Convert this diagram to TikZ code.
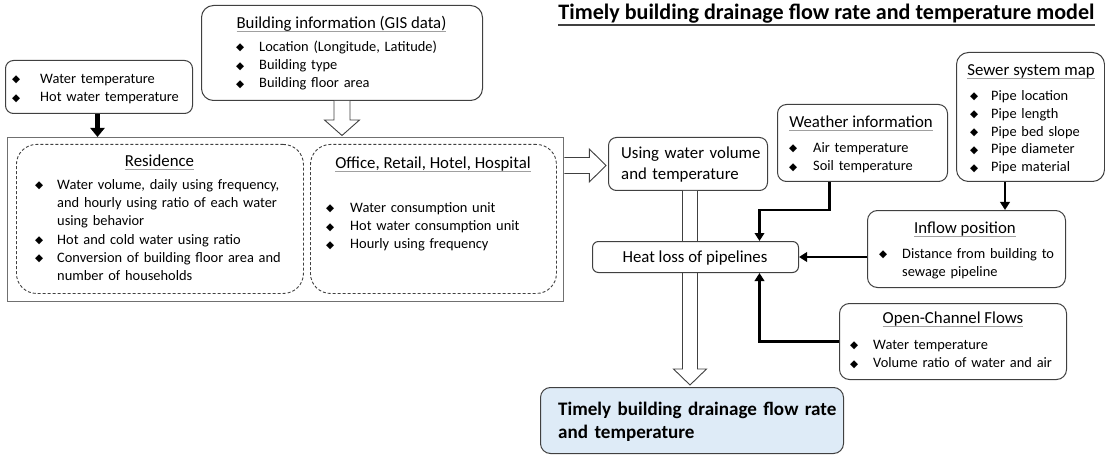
\documentclass[tikz,border=0pt]{standalone}
\usepackage{fontspec}
\setmainfont{Carlito}
\newfontfamily\symf{DejaVu Sans}
\usetikzlibrary{arrows.meta,calc}

\definecolor{boxline}{HTML}{404040}
\definecolor{frameline}{HTML}{707070}
\definecolor{ulgray}{HTML}{A0A0A0}
\definecolor{resfill}{HTML}{DEEBF7}

% underlined headings (thin grey rule just under the baseline)
\newsavebox\hdbox
\newcommand\ulh[1]{\sbox\hdbox{#1}\rlap{\textcolor{ulgray}{\rule[-3.2pt]{\wd\hdbox}{0.9pt}}}\usebox\hdbox}
\newcommand\ult[1]{\sbox\hdbox{#1}\rlap{\textcolor{boxline}{\rule[-5.8pt]{\wd\hdbox}{1.3pt}}}\usebox\hdbox}
% list bullet
\newcommand\bl[1][22pt]{\makebox[#1][l]{\symf\fontsize{10.5}{10.5}\selectfont\raisebox{0.6pt}{◆}}}
\newcommand\bodyf{\fontsize{14.4}{18.2}\selectfont}
\newcommand\hdrf{\fontsize{16.8}{21}\selectfont}
\newcommand\resf{\bfseries\fontsize{19.1}{23}\selectfont}
\newcommand\titf{\bfseries\fontsize{22.1}{26}\selectfont}

\begin{document}
\begin{tikzpicture}[x=1pt,y=-1pt,
  rbox/.style={draw=boxline, line width=1pt, rounded corners=#1, anchor=north west,
    inner sep=0pt, fill=white},
  rbox/.default=9pt,
  dbox/.style={draw=boxline, line width=0.9pt, dash pattern=on 3pt off 2pt,
    rounded corners=20pt, anchor=north west, inner sep=0pt},
  frame/.style={draw=frameline, line width=1.3pt, anchor=north west, inner sep=0pt},
  hdr/.style={anchor=base, font=\hdrf, inner sep=0pt},
  lst/.style={anchor=base west, font=\bodyf, inner sep=0pt, text width=#1, align=left},
  lst/.default=240pt,
  hollow/.style={draw=boxline, line width=0.9pt, fill=white, line join=miter},
  conn/.style={line width=2.8pt, -{Triangle[length=8pt,width=9.5pt]}, black},
  fatconn/.style={line width=4.6pt, -{Triangle[length=9pt,width=14pt]}, black}]

\useasboundingbox (0,0) rectangle (1105,457);

% ---- title ----
\node[anchor=base, font=\titf, inner sep=0pt] (title) at (826.5,20) {\ult{Timely building drainage flow rate and temperature model}};

% ---- input boxes (top left) ----
\node[rbox=8pt, minimum width=187pt, minimum height=53pt] (tempbox) at (5,60) {};
\node[lst=180pt] (templist) at (12,83.5) {\bl[28pt]Water temperature\\\bl[28pt]Hot water temperature};

\node[rbox=12pt, minimum width=281pt, minimum height=95pt] (gisbox) at (201,5) {};
\node[hdr] (gistitle) at (341.5,28.4) {\ulh{Building information (GIS data)}};
\node[lst=240pt] (gislist) at (236,51.5) {\bl[23pt]Location (Longitude, Latitude)\\\bl[23pt]Building type\\\bl[23pt]Building floor area};

% ---- building-use frame ----
\node[frame, minimum width=556pt, minimum height=164pt] (bigbox) at (7,137) {};
\node[dbox, minimum width=287pt, minimum height=149pt] (resbox) at (16,144) {};
\node[dbox, minimum width=246pt, minimum height=149pt] (offbox) at (310,144) {};

\node[hdr] (restitle) at (159.5,166.4) {\ulh{Residence}};
\node[lst=270pt] (reslist) at (35,189.5) {\bl[22pt]Water volume, daily using frequency,\\
\hspace*{22pt}and hourly using ratio of each water\\
\hspace*{22pt}using behavior\\
\bl[22pt]Hot and cold water using ratio\\
\bl[22pt]Conversion of building floor area and\\
\hspace*{22pt}number of households};

\node[hdr] (offtitle) at (433,168.4) {\ulh{Office, Retail, Hotel, Hospital}};
\node[lst=220pt] (offlist) at (326,212.5) {\bl[24pt]Water consumption unit\\\bl[24pt]Hot water consumption unit\\\bl[24pt]Hourly using frequency};

% ---- model chain ----
\node[rbox=8pt, minimum width=159pt, minimum height=53pt] (usebox) at (608,137) {};
\node[anchor=base west, font=\hdrf, inner sep=0pt, text width=150pt, align=left] (usetext) at (621,158.4) {Using water volume\\and temperature};

\node[rbox=9pt, minimum width=170pt, minimum height=77pt] (weatherbox) at (777,104) {};
\node[hdr] (weathertitle) at (861,127.4) {\ulh{Weather information}};
\node[lst=150pt] (weatherlist) at (789,152.5) {\bl[24pt]Air temperature\\\bl[24pt]Soil temperature};

\node[rbox=12pt, minimum width=148pt, minimum height=129pt] (sewerbox) at (956,52) {};
\node[hdr] (sewertitle) at (1031,75.4) {\ulh{Sewer system map}};
\node[lst=130pt, font={\fontsize{14.4}{17.8}\selectfont}] (sewerlist) at (970,100.5) {\bl[21pt]Pipe location\\\bl[21pt]Pipe length\\\bl[21pt]Pipe bed slope\\\bl[21pt]Pipe diameter\\\bl[21pt]Pipe material};

\node[rbox=10pt, minimum width=198pt, minimum height=77pt] (inflowbox) at (867,210) {};
\node[hdr] (inflowtitle) at (965,233.4) {\ulh{Inflow position}};
\node[lst=180pt] (inflowlist) at (879,258.5) {\bl[23pt]Distance from building to\\\hspace*{23pt}sewage pipeline};

\node[rbox=10pt, minimum width=227pt, minimum height=76pt] (openbox) at (839,303) {};
\node[hdr] (opentitle) at (953,323.4) {\ulh{Open-Channel Flows}};
\node[lst=210pt] (openlist) at (850,349.5) {\bl[23pt]Water temperature\\\bl[23pt]Volume ratio of water and air};

\node[rbox=10pt, minimum width=303pt, minimum height=66pt, fill=resfill] (resultbox) at (540,387) {};
\node[anchor=base west, font=\resf, inner sep=0pt, text width=290pt, align=left] (resulttext) at (558,415) {Timely building drainage flow rate\\and temperature};

% ---- hollow flow arrows ----
\draw[hollow] ($(gisbox.south)+(-8,0)$) -- ++(0,19) -- ++(-9.5,0)
  -- ($(gisbox.south |- bigbox.north)+(0,-1.5)$)
  -- ($(gisbox.south)+(17.5,19)$) -- ++(-9.5,0) -- ($(gisbox.south)+(8,0)$);

\coordinate (h2) at ($(bigbox.north east)+(0,28.5)$);
\draw[hollow] ($(h2)+(0,-8)$) -- ($(h2)+(25,-8)$) -- ($(h2)+(25,-16.5)$)
  -- ($(usebox.west |- h2)+(-2,0)$)
  -- ($(h2)+(25,16.5)$) -- ($(h2)+(25,8)$) -- ($(h2)+(0,8)$);

\coordinate (a3) at ($(usebox.south)+(2,0)$);
\draw[hollow] ($(a3)+(-7.5,0)$) -- ($(a3 |- resultbox.north)+(-7.5,-18)$) -- ++(-9,0)
  -- ($(a3 |- resultbox.north)+(0,-2)$)
  -- ($(a3 |- resultbox.north)+(16.5,-18)$) -- ++(-9,0) -- ($(a3)+(7.5,0)$);

% heat-loss box sits over the vertical flow arrow
\node[rbox=6pt, minimum width=206pt, minimum height=31pt] (heatbox) at (592,241) {};
\node[hdr] (heattext) at (695,262.4) {Heat loss of pipelines};

% ---- solid connectors ----
\coordinate (t1) at ($(tempbox.south)+(-1.5,0)$);
\draw[fatconn] (t1) -- (t1 |- bigbox.north);

\draw[conn] ($(weatherbox.south)+(-33,0)$) |- ($(heatbox.north)+(64,-31)$) -- ($(heatbox.north)+(64,0)$);

\coordinate (s1) at ($(sewerbox.south)+(-25.5,0)$);
\draw[conn] (s1) -- (s1 |- inflowbox.north);

\draw[conn] (inflowbox.west |- heatbox.east) -- (heatbox.east);

\draw[conn] (openbox.west) -| ($(heatbox.south)+(64,0)$);

\end{tikzpicture}
\end{document}
